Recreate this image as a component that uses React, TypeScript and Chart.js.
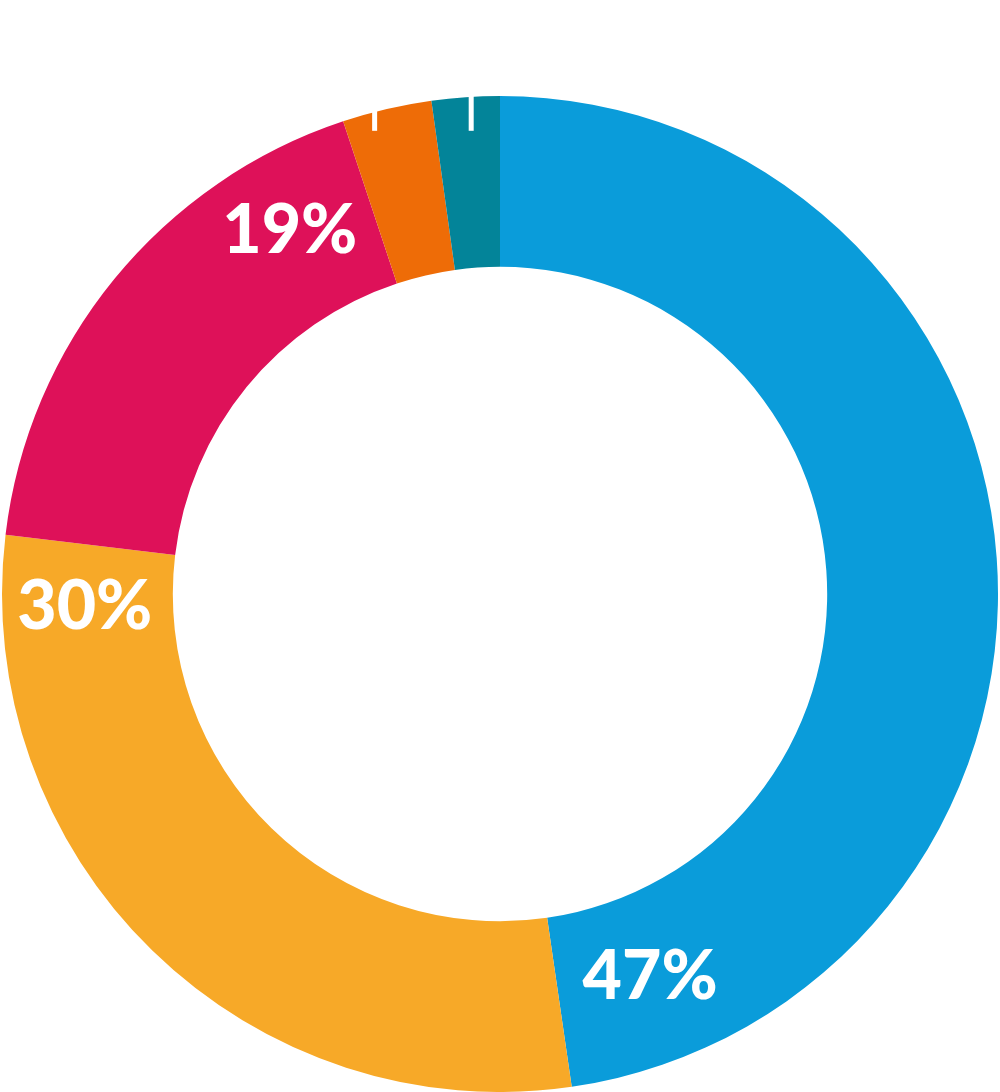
import React, { useEffect, useRef } from "react";
import { Chart, registerables } from "chart.js";

Chart.register(...registerables);

const categories = ["A", "B", "C", "D", "E"];
const values = [47.7, 29.2, 18.0, 2.9, 2.2];
const labelTexts = ["47%", "30%", "19%", "", ""];
const labelAngleShift = [0.225, 0.16, 0.21, 0, 0];
const colors = ["#0a9cda", "#f7a928", "#de1159", "#ee6c07", "#038499"];
const tickSlices = [false, false, false, true, true];
const tickAngleShift = [0, 0, 0, 0.035, -0.007];

const labelPlugin = {
  id: "segLabels",
  afterDatasetsDraw(chart: any) {
    const ctx = chart.ctx;
    const meta = chart.getDatasetMeta(0);
    ctx.save();
    meta.data.forEach((arc: any, i: number) => {
      const { x, y, startAngle, endAngle, innerRadius, outerRadius } = arc.getProps(
        ["x", "y", "startAngle", "endAngle", "innerRadius", "outerRadius"],
        true
      );
      const midR = (innerRadius + outerRadius) / 2 + 3;
      if (labelTexts[i]) {
        const a = endAngle - labelAngleShift[i];
        const lx = x + Math.cos(a) * midR;
        const ly = y + Math.sin(a) * midR - 4;
        ctx.fillStyle = "#ffffff";
        ctx.font = "900 68px Lato";
        ctx.textAlign = "center";
        ctx.textBaseline = "middle";
        ctx.fillText(labelTexts[i], lx, ly);
      }
      if (tickSlices[i]) {
        const a = (startAngle + endAngle) / 2 - tickAngleShift[i];
        const yEnd = y - innerRadius - 136;
        const dy = yEnd - y;
        const lx = x + dy / Math.tan(a);
        ctx.fillStyle = "#ffffff";
        ctx.fillRect(lx - 2.5, 0, 5, yEnd);
      }
    });
    ctx.restore();
  },
};

export default function App() {
  const ref = useRef<HTMLCanvasElement>(null);
  useEffect(() => {
    document.body.style.margin = "0";
    const chart = new Chart(ref.current!, {
      type: "doughnut",
      data: {
        labels: categories,
        datasets: [
          {
            data: values,
            backgroundColor: colors,
            borderWidth: 0,
          },
        ],
      },
      options: {
        animation: false,
        responsive: false,
        cutout: "65.7%",
        layout: { padding: { top: 96, left: 0, right: 0, bottom: 0 } },
        plugins: { legend: { display: false }, tooltip: { enabled: false } },
      },
      plugins: [labelPlugin],
    });
    return () => chart.destroy();
  }, []);
  return (
    <div style={{ width: 1000, height: 1092, background: "#fff" }}>
      <canvas ref={ref} width={1000} height={1092} style={{ display: "block" }} />
    </div>
  );
}
